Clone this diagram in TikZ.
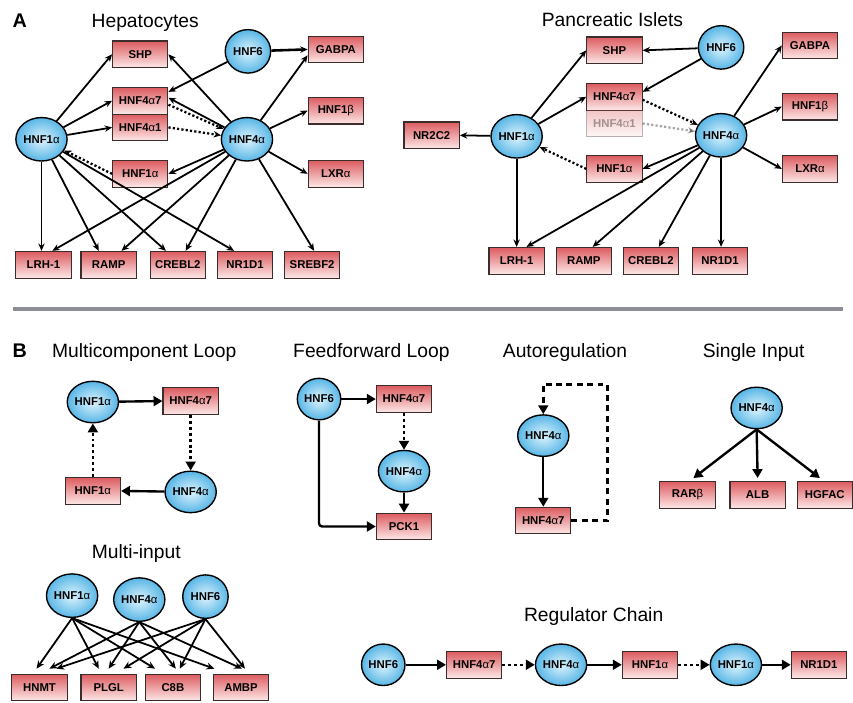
\documentclass[tikz,border=0pt]{standalone}
\usepackage{fontspec}
\setmainfont{Liberation Sans}
\usetikzlibrary{shapes.geometric,arrows.meta,calc}
\definecolor{boxtop}{RGB}{220,92,96}
\definecolor{boxbot}{RGB}{253,232,232}
\definecolor{boxedge}{RGB}{60,45,45}
\definecolor{tfin}{RGB}{222,244,253}
\definecolor{tfout}{RGB}{88,182,230}
\definecolor{sepgray}{RGB}{140,142,148}
\newcommand{\myal}{{\mdseries α}}
\newcommand{\mybe}{{\mdseries β}}
\begin{document}
\begin{tikzpicture}[x=1pt,y=-1pt,
 genebox/.style={rectangle, draw=boxedge, line width=1.1pt, top color=boxtop, bottom color=boxbot, minimum width=56pt, minimum height=27pt, inner sep=0pt, font=\bfseries\fontsize{11.5}{12}\selectfont},
 tfnode/.style={ellipse, draw=black, line width=1.4pt, inner color=tfin, outer color=tfout, minimum width=46pt, minimum height=44pt, inner sep=0pt, font=\bfseries\fontsize{11.5}{12}\selectfont},
 tfsmall/.style={tfnode, minimum width=44pt, minimum height=42pt},
 title/.style={anchor=base, font=\fontsize{19.5}{22}\selectfont},
 panel/.style={anchor=base, font=\bfseries\fontsize{20}{22}\selectfont},
 arr/.style={-{Stealth[length=7.5pt,width=6.5pt]}, line width=1.8pt},
 darr/.style={arr, dash pattern=on 2.2pt off 2.2pt, line width=2.3pt},
 marr/.style={-{Stealth[length=8pt,width=7pt]}, line width=1.8pt},
 barr/.style={-{Triangle[length=9pt,width=10pt]}, line width=2.4pt},
 bdot/.style={barr, dash pattern=on 3pt off 3pt, line width=2.6pt},
 bdash/.style={barr, dash pattern=on 6pt off 4.5pt, line width=2.6pt},
]
\fill[white] (0,0) rectangle (853,711);
% ---------- Panel A titles
\node[panel] (lblA) at (20,28) {A};
\node[title] (tHep) at (147,28) {Hepatocytes};
\node[title] (tPan) at (620,27) {Pancreatic Islets};
% ---------- Hepatocytes
\node[tfnode] (h1) at (42,141) {HNF1\myal};
\node[genebox] (hshp) at (142,55) {SHP};
\node[tfnode] (h6) at (251,52) {HNF6};
\node[genebox] (hgab) at (340,50) {GABPA};
\node[genebox] (ha7) at (142,102) {HNF4\myal7};
\node[genebox] (ha1) at (142,129) {HNF4\myal1};
\node[tfnode] (h4) at (250,141) {HNF4\myal};
\node[genebox] (hb) at (142,176) {HNF1\myal};
\node[genebox] (hh1b) at (340,112) {HNF1\mybe};
\node[genebox] (hlxr) at (340,176) {LXR\myal};
\node[genebox] (hlrh) at (44,268) {LRH-1};
\node[genebox] (hramp) at (110,268) {RAMP};
\node[genebox] (hcreb) at (180,268) {CREBL2};
\node[genebox] (hnr) at (248,268) {NR1D1};
\node[genebox] (hsre) at (316,268) {SREBF2};
\draw[arr] (h1) -- (hshp.west);
\draw[arr] (h1) -- (ha7.west);
\draw[arr] (h1) -- (ha1.west);
\draw[darr] (hb.west) -- (h1);
\draw[arr] (h1) -- ($(hlrh.north)+(-2,0)$);
\draw[arr] (h1) -- ($(hramp.north)+(-10,0)$);
\draw[arr] (h1) -- ($(hcreb.north)+(-12,0)$);
\draw[arr] (h1) -- ($(hnr.north)+(-11,0)$);
\draw[arr] (h4) -- ($(hlrh.north)+(9,0)$);
\draw[arr] (h4) -- ($(hramp.north)+(13,0)$);
\draw[arr] (h4) -- ($(hcreb.north)+(8,0)$);
\draw[arr] (h4) -- ($(hsre.north)+(2,0)$);
\draw[arr] (h4) -- (hshp.east);
\draw[arr] (h4) -- ($(ha7.east)+(0,-3)$);
\draw[darr] ($(ha7.east)+(0,4)$) -- (h4);
\draw[darr] (ha1.east) -- (h4);
\draw[arr] (h4) -- (hb.east);
\draw[arr] (h4) -- ($(hgab.west)+(0,6)$);
\draw[arr] (h4) -- (hh1b.west);
\draw[arr] (h4) -- (hlxr.west);
\draw[arr, line width=2.6pt] (h6) -- (hgab.west);
\draw[arr] (h6) -- ($(ha7.east)+(0,-9)$);
% ---------- Pancreatic islets
\node[tfnode] (p1) at (523,138) {HNF1\myal};
\node[genebox] (pnr2) at (437,137) {NR2C2};
\node[genebox] (pshp) at (622,51) {SHP};
\node[genebox] (pa7) at (622,98) {HNF4\myal7};
\node[genebox, opacity=0.35] (pa1) at (622,125) {HNF4\myal1};
\node[genebox] (pb) at (622,171) {HNF1\myal};
\node[tfnode] (p6) at (730,48) {HNF6};
\node[tfnode] (p4) at (730,137) {HNF4\myal};
\node[genebox] (pgab) at (820,46) {GABPA};
\node[genebox] (ph1b) at (820,108) {HNF1\mybe};
\node[genebox] (plxr) at (820,171) {LXR\myal};
\node[genebox] (plrh) at (523,264) {LRH-1};
\node[genebox] (pramp) at (591,264) {RAMP};
\node[genebox] (pcreb) at (659,264) {CREBL2};
\node[genebox] (pnr) at (729,264) {NR1D1};
\draw[arr] (p1) -- (pnr2.east);
\draw[arr] (p1) -- (pshp.west);
\draw[arr] (p1) -- (pa7.west);
\draw[darr] (pb.west) -- (p1);
\draw[arr] (p1) -- (p1 |- plrh.north);
\draw[arr] (p6) -- (pshp.east);
\draw[arr] (p6) -- ($(pa7.east)+(0,-5)$);
\draw[darr] ($(pa7.east)+(0,3)$) -- (p4);
\draw[darr, opacity=0.35] (pa1.east) -- (p4);
\draw[arr] (p4) -- (pb.east);
\draw[arr] (p4) -- (pgab.west);
\draw[arr] (p4) -- (ph1b.west);
\draw[arr] (p4) -- (plxr.west);
\draw[arr] (p4) -- ($(plrh.north)+(10,0)$);
\draw[arr] (p4) -- ($(pramp.north)+(9,0)$);
\draw[arr] (p4) -- ($(pcreb.north)+(8,0)$);
\draw[arr] (p4) -- (p4 |- pnr.north);
% ---------- separator
\draw[line width=4pt, sepgray] (13,313) -- (853,313);
% ---------- Panel B titles
\node[panel] (lblB) at (20,362) {B};
\node[title] (tMC) at (146,362) {Multicomponent Loop};
\node[title] (tFF) at (376,362) {Feedforward Loop};
\node[title] (tAR) at (572,362) {Autoregulation};
\node[title] (tSI) at (763,362) {Single Input};
\node[title] (tMI) at (138,565) {Multi-input};
\node[title] (tRC) at (601,629) {Regulator Chain};
% ---------- Multicomponent loop
\node[tfsmall] (m1) at (94,407) {HNF1\myal};
\node[genebox] (ma7) at (193,406) {HNF4\myal7};
\node[tfsmall] (m4) at (193,498) {HNF4\myal};
\node[genebox] (mb) at (94,497) {HNF1\myal};
\draw[barr] (m1) -- (ma7.west);
\draw[bdot] (ma7.south) -- (m4.north);
\draw[barr] (m4) -- (mb.east);
\draw[bdot] (mb.north) -- (m1.south);
% ---------- Feedforward loop
\node[tfsmall] (f6) at (323,404) {HNF6};
\node[genebox] (fa7) at (409,404) {HNF4\myal7};
\node[tfsmall] (f4) at (409,477) {HNF4\myal};
\node[genebox] (fpck) at (409,533) {PCK1};
\draw[barr] (f6) -- (fa7.west);
\draw[bdot] (fa7.south) -- (f4.north);
\draw[barr] (f4.south) -- (fpck.north);
\draw[barr, rounded corners=3pt] (f6.south) |- (fpck.west);
% ---------- Autoregulation
\node[tfsmall] (r4) at (550,441) {HNF4\myal};
\node[genebox] (ra7) at (550,527) {HNF4\myal7};
\coordinate (arc1) at (615,389);
\draw[barr] (r4.south) -- (ra7.north);
\draw[bdash] (ra7.east) -| (arc1) -| (r4.north);
% ---------- Single input
\node[tfsmall] (s4) at (766,413) {HNF4\myal};
\node[genebox] (srar) at (696,501) {RAR\mybe};
\node[genebox] (salb) at (767,501) {ALB};
\node[genebox] (shgf) at (835,501) {HGFAC};
\draw[barr] (s4.south) -- ($(srar.north)+(6,-3)$);
\draw[barr] (s4.south) -- ($(salb.north)+(0,-3)$);
\draw[barr] (s4.south) -- ($(shgf.north)+(-5,-3)$);
% ---------- Multi-input
\node[tfnode] (q1) at (73,603) {HNF1\myal};
\node[tfnode] (q4) at (141,607) {HNF4\myal};
\node[tfnode] (q6) at (208,604) {HNF6};
\node[genebox] (qhn) at (40,696) {HNMT};
\node[genebox] (qpl) at (110,696) {PLGL};
\node[genebox] (qc8) at (175,696) {C8B};
\node[genebox] (qam) at (244,696) {AMBP};
\draw[marr] (q1.south) -- ($(qhn.north)+(-3,-5)$);
\draw[marr] (q1.south) -- ($(qpl.north)+(-10,-5)$);
\draw[marr] (q1.south) -- ($(qc8.north)+(-18,-5)$);
\draw[marr] (q1.south) -- ($(qam.north)+(-27,-5)$);
\draw[marr] (q4.south) -- ($(qhn.north)+(10,-5)$);
\draw[marr] (q4.south) -- ($(qpl.north)+(0,-5)$);
\draw[marr] (q4.south) -- ($(qc8.north)+(3,-5)$);
\draw[marr] (q4.south) -- ($(qam.north)+(1,-5)$);
\draw[marr] (q6.south) -- ($(qhn.north)+(17,-5)$);
\draw[marr] (q6.south) -- ($(qpl.north)+(15,-5)$);
\draw[marr] (q6.south) -- ($(qc8.north)+(7,-5)$);
\draw[marr] (q6.south) -- ($(qam.north)+(4,-5)$);
% ---------- Regulator chain
\node[tfsmall] (c6) at (388,673) {HNF6};
\node[genebox] (ca7) at (480,673) {HNF4\myal7};
\node[tfsmall] (c4) at (568,673) {HNF4\myal};
\node[genebox] (cb) at (658,673) {HNF1\myal};
\node[tfsmall] (c1) at (745,673) {HNF1\myal};
\node[genebox] (cnr) at (829,673) {NR1D1};
\draw[barr] (c6) -- (ca7);
\draw[bdot] (ca7) -- (c4);
\draw[barr] (c4) -- (cb);
\draw[bdot] (cb) -- (c1);
\draw[barr] (c1) -- (cnr);
\end{tikzpicture}
\end{document}
